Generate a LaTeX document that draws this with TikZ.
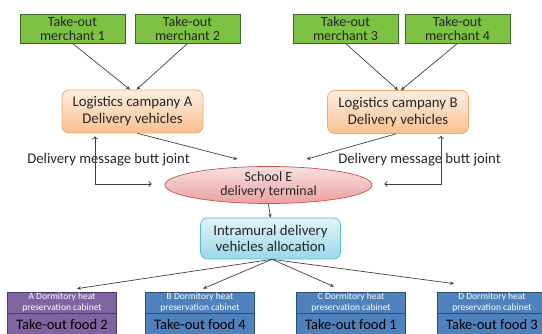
\documentclass[tikz,border=0pt]{standalone}
\usepackage{fontspec}
\setmainfont{Carlito}
\usetikzlibrary{arrows.meta,shapes.geometric,calc}
\definecolor{mgreen}{HTML}{7DC243}
\definecolor{mgreenD}{HTML}{3F6A26}
\definecolor{orT}{HTML}{FDEEE2}
\definecolor{orB}{HTML}{FAC08F}
\definecolor{orD}{HTML}{F5A66A}
\definecolor{pkT}{HTML}{F7E0E0}
\definecolor{pkB}{HTML}{EDA0A0}
\definecolor{pkD}{HTML}{C9504D}
\definecolor{cyT}{HTML}{E2F4F8}
\definecolor{cyB}{HTML}{9AD8EA}
\definecolor{cyD}{HTML}{5CB8D0}
\definecolor{purp}{HTML}{8064A2}
\definecolor{purpD}{HTML}{4E3B68}
\definecolor{blu}{HTML}{4F81BD}
\definecolor{bluD}{HTML}{2C4D75}
\definecolor{ln}{HTML}{404040}
\definecolor{tx}{HTML}{262626}
\tikzset{
  merch/.style={draw=mgreenD,fill=mgreen,line width=0.8pt,minimum width=105pt,minimum height=29pt,inner sep=0pt,align=center,font=\fontsize{14}{14}\selectfont,text=tx},
  logi/.style={draw=orD,top color=orT,bottom color=orB,rounded corners=7pt,line width=0.7pt,minimum width=141pt,minimum height=43pt,inner sep=0pt,align=center,font=\fontsize{14.8}{17}\selectfont,text=tx},
  term/.style={ellipse,draw=pkD,top color=pkT,bottom color=pkB,line width=0.7pt,minimum width=207pt,minimum height=37pt,inner sep=0pt,align=center,font=\fontsize{14}{14}\selectfont,text=tx},
  alloc/.style={draw=cyD,top color=cyT,bottom color=cyB,rounded corners=7pt,line width=0.7pt,minimum width=140pt,minimum height=41pt,inner sep=0pt,align=center,font=\fontsize{14.8}{16}\selectfont,text=tx},
  cabhead/.style={draw=#1D,fill=#1,line width=0.7pt,minimum width=109pt,minimum height=21pt,inner sep=0pt,align=center,font=\fontsize{9.5}{10.5}\selectfont,text=white},
  cabbody/.style={draw=#1D,fill=#1,line width=0.7pt,minimum width=109pt,minimum height=31pt,inner sep=0pt,text height=0pt,text depth=0pt,align=center,font=\fontsize{14.5}{15}\selectfont,text=black},
  lbl/.style={font=\fontsize{14.7}{15}\selectfont,text=tx,inner sep=0pt},
  arr/.style={draw=ln,line width=0.7pt,-{Stealth[length=4pt,width=3.5pt]}},
  fb/.style={draw=ln,line width=0.7pt,{To[length=3pt,width=6pt]}-{To[length=3pt,width=6pt]}},
}
\begin{document}
\begin{tikzpicture}[x=1pt,y=-1pt]
\useasboundingbox (0,0) rectangle (542,334);
\clip (0,0) rectangle (542,334);
\node[merch] (m1) at (72.5,28.5) {Take-out\\merchant 1};
\node[merch] (m2) at (187.5,28.5) {Take-out\\merchant 2};
\node[merch] (m3) at (345.5,28.5) {Take-out\\merchant 3};
\node[merch] (m4) at (457.5,28.5) {Take-out\\merchant 4};
\node[logi] (la) at (132.5,111.5) {Logistics campany A\\Delivery vehicles};
\node[logi] (lb) at (398,112) {Logistics campany B\\Delivery vehicles};
\node[term] (e) at (268.5,185) {School E\\delivery terminal};
\node[alloc] (al) at (270.5,238.5) {Intramural delivery\\vehicles allocation};
\node[lbl] (l1) at (108.5,160) {Delivery message butt joint};
\node[lbl] (l2) at (419.5,160) {Delivery message butt joint};
\node[cabhead=purp] (ha) at (62,302.5) {A Dormitory heat\\preservation cabinet};
\node[cabbody=purp,anchor=north] (ba) at (ha.south) {Take-out food 2};
\node[cabhead=blu] (hb) at (200,302.5) {B Dormitory heat\\preservation cabinet};
\node[cabbody=blu,anchor=north] (bb) at (hb.south) {Take-out food 4};
\node[cabhead=blu] (hc) at (351,302.5) {C Dormitory heat\\preservation cabinet};
\node[cabbody=blu,anchor=north] (bc) at (hc.south) {Take-out food 1};
\node[cabhead=blu] (hd) at (492,302.5) {D Dormitory heat\\preservation cabinet};
\node[cabbody=blu,anchor=north] (bd) at (hd.south) {Take-out food 3};
% merchants to logistics
\draw[arr] (m1.south) -- ([xshift=-2.5pt]la.north);
\draw[arr] (m2.south) -- ([xshift=4pt]la.north);
\draw[arr] (m3.south) -- ([xshift=0pt]lb.north);
\draw[arr] (m4.south) -- ([xshift=3pt]lb.north);
% logistics to terminal
\draw[arr] ([xshift=5pt]la.south) -- ([xshift=-31pt,yshift=7pt]e.north);
\draw[arr] ([xshift=-2pt]lb.south) -- ([xshift=38pt,yshift=7pt]e.north);
% feedback
\draw[fb] ([xshift=-37.5pt,yshift=-3pt]la.south) |- ([xshift=-13pt,yshift=1pt]e.west);
\draw[fb] ([xshift=43pt,yshift=-2pt]lb.south) |- ([xshift=12pt,yshift=1pt]e.east);
% terminal to allocation
\draw[arr] (e.south) -- (al.north);
% allocation to cabinets
\draw[arr] ([xshift=1.5pt]al.south) -- ([xshift=15pt,yshift=3pt]ha.north);
\draw[arr] ([xshift=1.5pt]al.south) -- ([xshift=3pt,yshift=3pt]hb.north);
\draw[arr] ([xshift=1.5pt]al.south) -- ([xshift=-17pt,yshift=5pt]hc.north);
\draw[arr] ([xshift=1.5pt]al.south) -- ([xshift=-38pt,yshift=8pt]hd.north);
\end{tikzpicture}
\end{document}
